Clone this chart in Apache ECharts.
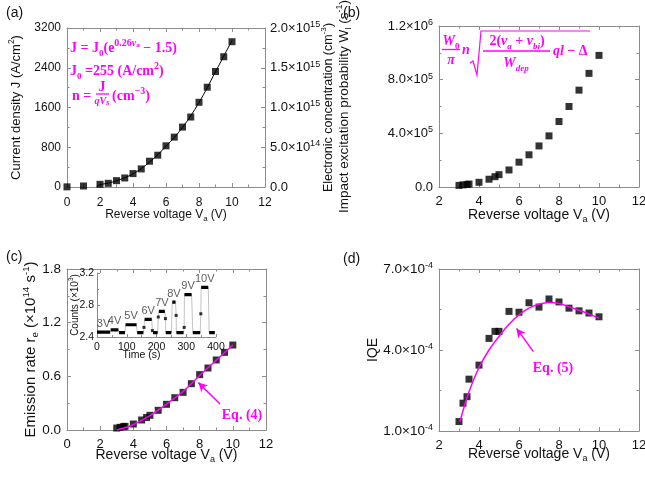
<!DOCTYPE html>
<html>
<head>
<meta charset="utf-8">
<script src="https://cdn.jsdelivr.net/npm/echarts@6/dist/echarts.min.js"></script>
<style>
html, body { margin: 0; padding: 0; background: #fff; }
#chart { width: 645px; height: 477px; }
</style>
</head>
<body>
<div id="chart"></div>
<script>
// ---- (a) current density vs voltage
var voltA = [0, 1, 2, 2.5, 3, 3.5, 4, 4.5, 5, 5.5, 6, 6.5, 7, 7.5, 8, 8.5, 9, 9.5, 10];
var currentA = [3, 20, 54, 74, 128, 182, 270, 364, 519, 640, 829, 1004, 1206, 1408, 1705, 2008, 2325, 2621, 2924];
var fitVoltA = [1.8, 2, 2.5, 3, 4, 5, 6, 7, 8, 9, 10];
var fitCurrentA = [15, 45, 80, 125, 265, 500, 820, 1200, 1700, 2320, 2950];
var concTickLabels = ['0.0', '5.0×10^14', '1.0×10^15', '1.5×10^15', '2.0×10^15'];

// ---- (b), (c), (d) share the same voltages
var voltBCD = [3, 3.2, 3.4, 3.5, 4, 4.5, 4.8, 5, 5.5, 6, 6.5, 7, 7.5, 8, 8.5, 9, 9.5, 10];
var excitationB = [12e3, 16e3, 19e3, 22e3, 35e3, 58e3, 77e3, 92e3, 127e3, 185e3, 240e3, 306e3, 381e3, 488e3, 600e3, 722e3, 847e3, 981e3];
var excitationTickLabels = ['0.0', '4.0×10^5', '8.0×10^5', '1.2×10^6'];

var emissionC = [0.022, 0.03, 0.037, 0.041, 0.067, 0.112, 0.14, 0.164, 0.22, 0.287, 0.361, 0.421, 0.518, 0.619, 0.693, 0.783, 0.868, 0.95];
var fitVoltC = [3, 3.5, 4, 5, 6, 7, 8, 9, 10];
var fitEmissionC = [0.0, 0.025, 0.06, 0.16, 0.29, 0.43, 0.61, 0.78, 0.95];

var iqeD = [1.35e-4, 2.03e-4, 2.27e-4, 2.92e-4, 3.44e-4, 4.43e-4, 4.69e-4, 4.69e-4, 5.43e-4, 5.40e-4, 5.75e-4, 5.59e-4, 5.89e-4, 5.78e-4, 5.55e-4, 5.45e-4, 5.37e-4, 5.23e-4];
var fitVoltD = [3.05, 3.5, 4, 4.5, 5, 5.5, 6, 6.5, 7, 7.5, 8, 8.5, 9, 9.5, 10];
var fitIqeD = [1.35e-4, 2.45e-4, 3.35e-4, 4.0e-4, 4.5e-4, 4.95e-4, 5.3e-4, 5.55e-4, 5.7e-4, 5.76e-4, 5.72e-4, 5.6e-4, 5.47e-4, 5.33e-4, 5.18e-4];
var iqeTickLabels = ['1.0×10^-4', '4.0×10^-4', '7.0×10^-4'];

// ---- inset of (c): counts vs time
var plateauStart = [0, 46, 74, 96, 135, 160, 188, 208, 231, 253, 267, 294, 322, 350, 377];
var plateauEnd = [44, 72, 94, 133, 156, 184, 204, 228, 250, 264, 291, 318, 347, 374, 396];
var plateauLevel = [2.46, 2.49, 2.455, 2.553, 2.455, 2.62, 2.455, 2.72, 2.455, 2.835, 2.455, 2.93, 2.455, 3.02, 2.455];
var spikeTime = [158, 186, 206, 230, 266, 293, 349];
var spikeCounts = [2.52, 2.48, 2.65, 2.63, 2.67, 2.52, 2.69];
var stepNames = ['3V', '4V', '5V', '6V', '7V', '8V', '9V', '10V'];
var stepPlateau = [0, 1, 3, 5, 7, 9, 11, 13];

var FONT = 'Liberation Sans';
var SERIF = 'Liberation Serif';
var PINK = '#ff00ff';
var GRAY = '#8c8c8c';
var INK = '#111';

function zip(xs, ys) {
    var out = [];
    for (var i = 0; i < xs.length; i++) {
        out.push([xs[i], ys[i]]);
    }
    return out;
}

function merge(a, b) {
    for (var k in b) {
        if (b[k] && typeof b[k] === 'object' && !Array.isArray(b[k]) && a[k] && typeof a[k] === 'object') {
            merge(a[k], b[k]);
        } else {
            a[k] = b[k];
        }
    }
    return a;
}

// "2.0×10^15" -> rich text with superscript
function sciRich(s) {
    var p = s.split('^');
    return p.length > 1 ? '{m|' + p[0] + '}{s|' + p[1] + '}' : '{m|' + s + '}';
}

function tickRich(size) {
    return {
        m: { fontSize: size, fontFamily: FONT, color: INK, lineHeight: size + 3 },
        s: { fontSize: Math.round(size * 0.66), fontFamily: FONT, color: INK, verticalAlign: 'top' }
    };
}
function nameRich(size) {
    return {
        n: { fontSize: size, fontFamily: FONT, color: INK, lineHeight: size + 4 },
        sup: { fontSize: size * 0.65, fontFamily: FONT, color: INK, verticalAlign: 'top' },
        sub: { fontSize: size * 0.65, fontFamily: FONT, color: INK, verticalAlign: 'bottom' }
    };
}

function axis(labelSize, nameSize, extra) {
    return merge({
        type: 'value',
        axisLine: { show: true, onZero: false, lineStyle: { color: GRAY, width: 1 } },
        axisTick: { show: true, inside: true, length: 4, lineStyle: { color: GRAY } },
        minorTick: { show: true, splitNumber: 2, length: 2.5, lineStyle: { color: GRAY } },
        splitLine: { show: false },
        axisLabel: {
            color: INK, fontSize: labelSize, fontFamily: FONT, margin: 6, rich: tickRich(labelSize),
            formatter: function (v) { return '{m|' + v + '}'; }
        },
        nameLocation: 'middle',
        nameMoveOverlap: false,
        nameTextStyle: { rich: nameRich(nameSize) }
    }, extra);
}

// unlabeled axis on the opposite side: closes the box, inward ticks
function mirror(gridIndex, position, min, max, interval) {
    return axis(12, 12, {
        gridIndex: gridIndex, position: position, min: min, max: max, interval: interval,
        axisLabel: { formatter: function () { return ''; } }
    });
}

var voltName = '{n|Reverse voltage V}{sub|a}{n| (V)}';

var xAxes = [
    axis(12, 12, { gridIndex: 0, min: 0, max: 12, interval: 2, name: voltName, nameGap: 20, axisLabel: { margin: 8 } }),
    mirror(0, 'top', 0, 12, 2),
    axis(13, 14, { gridIndex: 1, min: 2, max: 12, interval: 2, name: voltName, nameGap: 19 }),
    mirror(1, 'top', 2, 12, 2),
    axis(13, 14, { gridIndex: 2, min: 0, max: 12, interval: 2, name: voltName, nameGap: 16 }),
    mirror(2, 'top', 0, 12, 2),
    axis(13, 14, { gridIndex: 3, min: 2, max: 12, interval: 2, name: voltName, nameGap: 14 }),
    mirror(3, 'top', 2, 12, 2),
    axis(10.5, 10.5, {
        gridIndex: 4, min: 0, max: 400, interval: 100, name: 'Time (s)', nameGap: 13,
        axisTick: { length: 3 }, minorTick: { length: 2 },
        axisLabel: { margin: 3 },
        nameTextStyle: { fontSize: 10.5, fontFamily: FONT, color: INK, padding: [0, 30, 0, 0] }
    })
];

var yAxes = [
    axis(12, 13, {
        gridIndex: 0, min: 0, max: 3200, interval: 800, nameRotate: 90, nameGap: 42,
        name: '{n|Current density J (A/cm}{sup|2}{n|)}'
    }),
    axis(13, 12.5, {
        gridIndex: 0, position: 'right', min: 0, max: 2e15, interval: 5e14, nameRotate: 90, nameGap: 55,
        name: '{n|Electronic concentration (cm}{sup|-3}{n|)}',
        axisLabel: { margin: 5, formatter: function (v, i) { return sciRich(concTickLabels[i]); } }
    }),
    axis(13, 13.5, {
        gridIndex: 1, min: 0, max: 1.2e6, interval: 4e5, nameRotate: 90, nameGap: 86,
        name: '{n|Impact excitation probability W}{sub|I}{n| (s}{sup|-1}{n|)}',
        axisLabel: { formatter: function (v, i) { return sciRich(excitationTickLabels[i]); } }
    }),
    mirror(1, 'right', 0, 1.2e6, 4e5),
    axis(13.5, 15, {
        gridIndex: 2, min: 0, max: 1.8, interval: 0.6, nameRotate: 90, nameGap: 27,
        name: '{n|Emission rate r}{sub|e}{n| (×10}{sup|14}{n| s}{sup|-1}{n|)}',
        axisLabel: { formatter: function (v) { return '{m|' + v.toFixed(1) + '}'; } }
    }),
    mirror(2, 'right', 0, 1.8, 0.6),
    axis(13.5, 14, {
        gridIndex: 3, min: 1e-4, max: 7e-4, interval: 3e-4, nameRotate: 90, nameGap: 57,
        name: '{n|IQE}',
        axisLabel: { formatter: function (v, i) { return sciRich(iqeTickLabels[i]); } }
    }),
    mirror(3, 'right', 1e-4, 7e-4, 3e-4),
    axis(10.5, 10, {
        gridIndex: 4, min: 2.4, max: 3.2, interval: 0.4, nameRotate: 90, nameGap: 15,
        name: '{n|Counts (×10}{sup|3}{n|)}',
        axisTick: { length: 3 }, minorTick: { length: 2 },
        axisLabel: { margin: 3, formatter: function (v) { return '{m|' + v.toFixed(1) + '}'; } }
    })
];

// inset series built from the plateau table
var insetLine = [];
for (var i = 0; i < plateauStart.length; i++) {
    insetLine.push([plateauStart[i], plateauLevel[i]]);
    insetLine.push([plateauEnd[i], plateauLevel[i]]);
}
for (var j = 0; j < spikeTime.length; j++) {
    insetLine.push([spikeTime[j], spikeCounts[j]]);
}
insetLine.sort(function (p, q) { return p[0] - q[0]; });

var insetPlateaus = [];
for (var k = 0; k < plateauStart.length; k++) {
    insetPlateaus.push([plateauStart[k], plateauLevel[k]]);
    insetPlateaus.push([plateauEnd[k], plateauLevel[k]]);
    insetPlateaus.push([plateauEnd[k], '-']);
}

var stepLabels = [];
for (var m = 0; m < stepNames.length; m++) {
    var p = stepPlateau[m];
    stepLabels.push({ name: stepNames[m], value: [(plateauStart[p] + plateauEnd[p]) / 2, plateauLevel[p]] });
}

function squares(xIdx, yIdx, data) {
    return {
        type: 'scatter', xAxisIndex: xIdx, yAxisIndex: yIdx, data: data,
        symbol: 'rect', symbolSize: 7, itemStyle: { color: '#000' }, z: 3
    };
}

function fitLine(xIdx, yIdx, data, color, width) {
    return {
        type: 'line', xAxisIndex: xIdx, yAxisIndex: yIdx, data: data, smooth: 0.4,
        showSymbol: false, symbol: 'none', lineStyle: { color: color, width: width }, z: 4
    };
}

function arrow(tail, head) {
    return {
        silent: true, symbol: ['none', 'arrow'], symbolSize: [7, 9],
        lineStyle: { color: PINK, width: 1.5, type: 'solid' },
        label: { show: false },
        data: [[{ coord: tail }, { coord: head }]]
    };
}

var fitC = fitLine(4, 4, zip(fitVoltC, fitEmissionC), PINK, 1.5);
fitC.markLine = arrow([9.23, 0.29], [7.92, 0.53]);
var fitD = fitLine(6, 6, zip(fitVoltD, fitIqeD), PINK, 1.5);
fitD.markLine = arrow([6.72, 3.94e-4], [5.88, 4.8e-4]);

var series = [
    squares(0, 0, zip(voltA, currentA)),
    fitLine(0, 0, zip(fitVoltA, fitCurrentA), '#000', 1),
    squares(2, 2, zip(voltBCD, excitationB)),
    squares(4, 4, zip(voltBCD, emissionC)),
    fitC,
    squares(6, 6, zip(voltBCD, iqeD)),
    fitD,
    {
        type: 'line', xAxisIndex: 8, yAxisIndex: 8, data: insetLine, showSymbol: false,
        lineStyle: { color: '#b5b5b5', width: 0.8 }, z: 2
    },
    {
        type: 'line', xAxisIndex: 8, yAxisIndex: 8, data: insetPlateaus, showSymbol: false,
        connectNulls: false, lineStyle: { color: '#000', width: 3.2 }, z: 3
    },
    {
        type: 'scatter', xAxisIndex: 8, yAxisIndex: 8, data: zip(spikeTime, spikeCounts),
        symbol: 'rect', symbolSize: 3, itemStyle: { color: '#000' }, z: 3
    },
    {
        type: 'scatter', xAxisIndex: 8, yAxisIndex: 8, data: stepLabels, symbolSize: 0,
        label: {
            show: true, position: 'top', distance: 3, formatter: '{b}',
            fontSize: 11, fontFamily: FONT, color: '#333'
        }
    }
];

// magenta equation text
var eqRich = {
    b: { fill: PINK, fontFamily: SERIF, fontWeight: 'bold', fontSize: 14, lineHeight: 20 },
    i: { fill: PINK, fontFamily: SERIF, fontWeight: 'bold', fontStyle: 'italic', fontSize: 14, lineHeight: 20 },
    sub: { fill: PINK, fontFamily: SERIF, fontWeight: 'bold', fontSize: 9, verticalAlign: 'bottom' },
    subi: { fill: PINK, fontFamily: SERIF, fontWeight: 'bold', fontStyle: 'italic', fontSize: 9, verticalAlign: 'bottom' },
    sup: { fill: PINK, fontFamily: SERIF, fontWeight: 'bold', fontSize: 10, verticalAlign: 'top' },
    supi: { fill: PINK, fontFamily: SERIF, fontWeight: 'bold', fontStyle: 'italic', fontSize: 10, verticalAlign: 'top' },
    supsub: { fill: PINK, fontFamily: SERIF, fontWeight: 'bold', fontSize: 7, verticalAlign: 'top', padding: [4, 0, 0, 0] },
    small: { fill: PINK, fontFamily: SERIF, fontWeight: 'bold', fontStyle: 'italic', fontSize: 10, lineHeight: 12 }
};

function eq(x, y, text, align) {
    return {
        type: 'text', x: x, y: y, silent: true,
        style: { text: text, rich: eqRich, align: align || 'left', verticalAlign: 'middle' }
    };
}

function bar(x1, x2, y) {
    return {
        type: 'line', silent: true,
        shape: { x1: x1, y1: y, x2: x2, y2: y },
        style: { stroke: PINK, lineWidth: 1.3 }
    };
}

function panelLabel(x, y, t) {
    return {
        type: 'text', x: x, y: y, silent: true,
        style: { text: t, font: '14px "Liberation Sans"', fill: INK, verticalAlign: 'middle' }
    };
}

var graphics = [
    panelLabel(6, 13, '(a)'),
    panelLabel(343, 13, '(b)'),
    panelLabel(6, 257, '(c)'),
    panelLabel(343, 259, '(d)'),
    // (a)
    eq(70, 48, '{b|J = J}{sub|0}{b|(e}{sup|0.26}{supi|v}{supsub|a}{b| − 1.5)}'),
    eq(70, 71, '{b|J}{sub|0}{b| =255 (A/cm}{sup|2}{b|)}'),
    eq(72, 96, '{b|n =}'),
    eq(102, 87, '{b|J}', 'center'),
    bar(96, 109, 94),
    eq(102, 101, '{small|qV}{subi|s}', 'center'),
    eq(112, 96, '{b|(cm}{sup|−3}{b|)}'),
    // (b)
    eq(451, 41, '{i|W}{sub|0}', 'center'),
    bar(442, 460, 49.5),
    eq(451, 60, '{i|π}', 'center'),
    eq(466, 50, '{i|n}', 'center'),
    {
        type: 'polyline', silent: true,
        shape: { points: [[470, 63], [473, 61], [477, 75], [481, 31], [590, 31]] },
        style: { stroke: PINK, lineWidth: 1.2, fill: null }
    },
    eq(517, 41, '{b|2(}{i|v}{subi|a}{b| + }{i|v}{subi|bi}{b|)}', 'center'),
    bar(483, 550, 51),
    eq(516, 63, '{i|W}{subi|dep}', 'center'),
    eq(553, 51, '{i|ql}{b| − Δ}'),
    // (c) and (d)
    eq(242, 415, '{b|Eq. (4)}', 'center'),
    eq(553, 368, '{b|Eq. (5)}', 'center')
];

var chart = echarts.init(document.getElementById('chart'));
chart.setOption({
    animation: false,
    backgroundColor: '#fff',
    textStyle: { fontFamily: FONT },
    grid: [
        { left: 67, top: 28, width: 198, height: 159, outerBoundsMode: 'none' },
        { left: 439, top: 26, width: 200, height: 161, outerBoundsMode: 'none' },
        { left: 67, top: 269, width: 199, height: 161, outerBoundsMode: 'none' },
        { left: 439, top: 269, width: 200, height: 162, outerBoundsMode: 'none' },
        { left: 97, top: 273, width: 119, height: 64, outerBoundsMode: 'none' }
    ],
    xAxis: xAxes,
    yAxis: yAxes,
    series: series,
    graphic: graphics
});
</script>
</body>
</html>
